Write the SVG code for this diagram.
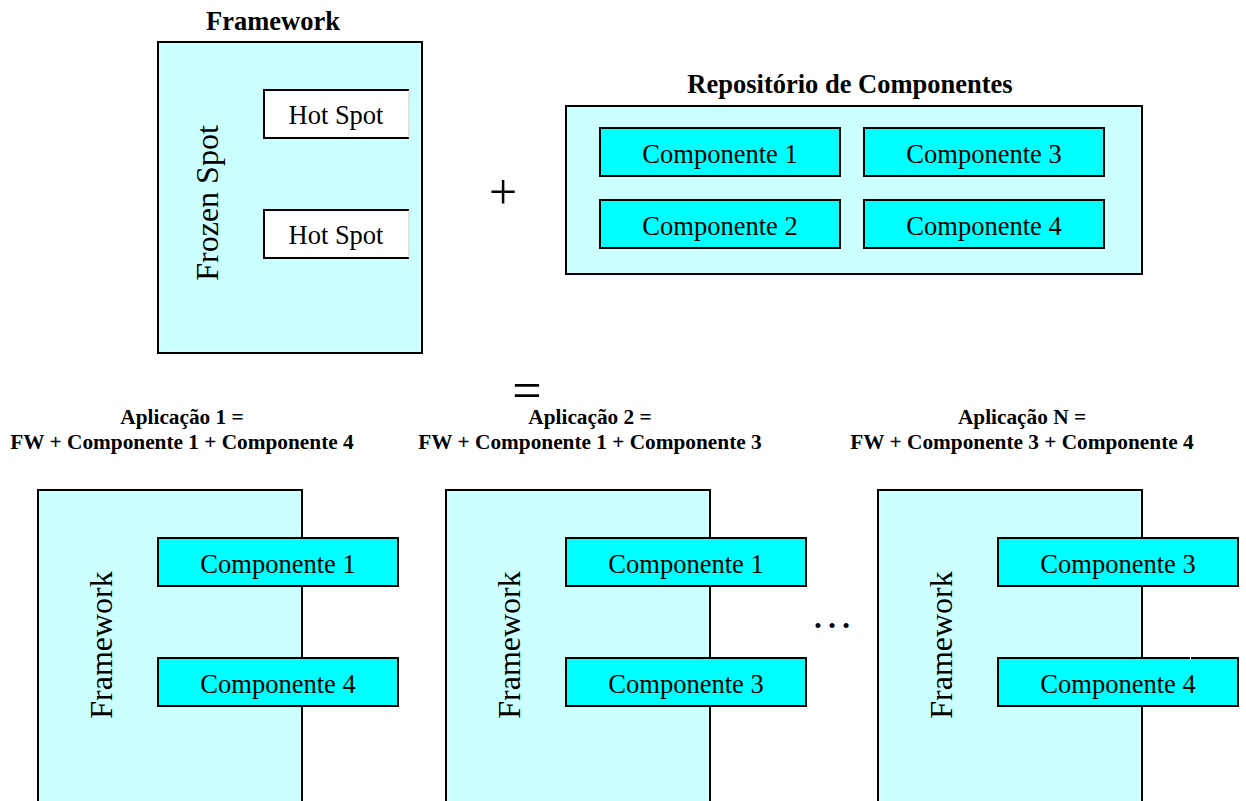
<svg xmlns="http://www.w3.org/2000/svg" width="1246" height="801" viewBox="0 0 1246 801">
  <style>
    .frame { fill: #CCFFFF; stroke: #000; stroke-width: 2; }
    .comp { fill: #00FFFF; stroke: #000; stroke-width: 2; }
    .hot { fill: #FFFFFF; }
    .edge { stroke: #000; stroke-width: 2; fill: none; }
    .t { font-family: "Liberation Serif", "Times New Roman", serif; fill: #000; }
    .lbl { font-size: 26.5px; text-anchor: middle; }
    .title { font-size: 26.5px; font-weight: bold; text-anchor: middle; }
    .app { font-size: 21.3px; font-weight: bold; text-anchor: middle; }
    .vert { font-size: 32px; text-anchor: middle; }
  </style>
  <rect width="1246" height="801" fill="#FFFFFF"/>

  <!-- Framework with frozen spot and hot spots -->
  <g id="framework">
    <text class="t title" x="273" y="30">Framework</text>
    <rect class="frame" x="158" y="42" width="264" height="311"/>
    <text class="t vert" font-size="33.5" transform="translate(218,203) rotate(-90)">Frozen Spot</text>
    <g id="hotspot1">
      <rect class="hot" x="264" y="90" width="145" height="48"/>
      <path class="edge" d="M409,90 H264 V138 H409"/>
      <line x1="409" y1="90" x2="409" y2="138" stroke="#C8C8C8" stroke-width="1"/>
      <text class="t lbl" x="336" y="124">Hot Spot</text>
    </g>
    <g id="hotspot2">
      <rect class="hot" x="264" y="210" width="145" height="48"/>
      <path class="edge" d="M409,210 H264 V258 H409"/>
      <line x1="409" y1="210" x2="409" y2="258" stroke="#C8C8C8" stroke-width="1"/>
      <text class="t lbl" x="336" y="244">Hot Spot</text>
    </g>
  </g>

  <!-- Operators -->
  <g id="plus"><text class="t" x="503" y="209" font-size="50" text-anchor="middle">+</text></g>
  <g id="equals"><text class="t" x="527" y="407.5" font-size="52" text-anchor="middle" font-family="Liberation Sans, Arial, sans-serif">=</text></g>

  <!-- Component repository -->
  <g id="repository">
    <text class="t title" x="850" y="93">Repositório de Componentes</text>
    <rect class="frame" x="566" y="106" width="576" height="168"/>
    <g id="repo-c1"><rect class="comp" x="600" y="128" width="240" height="48"/><text class="t lbl" x="720" y="163">Componente 1</text></g>
    <g id="repo-c3"><rect class="comp" x="864" y="128" width="240" height="48"/><text class="t lbl" x="984" y="163">Componente 3</text></g>
    <g id="repo-c2"><rect class="comp" x="600" y="200" width="240" height="48"/><text class="t lbl" x="720" y="235">Componente 2</text></g>
    <g id="repo-c4"><rect class="comp" x="864" y="200" width="240" height="48"/><text class="t lbl" x="984" y="235">Componente 4</text></g>
  </g>

  <!-- Application 1 -->
  <g id="app1">
    <text class="t app" x="182" y="424">Aplicação 1 =</text>
    <text class="t app" x="182" y="449">FW + Componente 1 + Componente 4</text>
    <rect class="frame" x="38" y="490" width="264" height="330"/>
    <text class="t vert" transform="translate(112,645) rotate(-90)">Framework</text>
    <g id="app1-c1"><rect class="comp" x="158" y="538" width="240" height="48"/><text class="t lbl" x="278" y="573">Componente 1</text></g>
    <g id="app1-c4"><rect class="comp" x="158" y="658" width="240" height="48"/><text class="t lbl" x="278" y="693">Componente 4</text></g>
  </g>

  <!-- Application 2 -->
  <g id="app2">
    <text class="t app" x="590" y="424">Aplicação 2 =</text>
    <text class="t app" x="590" y="449">FW + Componente 1 + Componente 3</text>
    <rect class="frame" x="446" y="490" width="264" height="330"/>
    <text class="t vert" transform="translate(520,645) rotate(-90)">Framework</text>
    <g id="app2-c1"><rect class="comp" x="566" y="538" width="240" height="48"/><text class="t lbl" x="686" y="573">Componente 1</text></g>
    <g id="app2-c3"><rect class="comp" x="566" y="658" width="240" height="48"/><text class="t lbl" x="686" y="693">Componente 3</text></g>
  </g>

  <g id="ellipsis"><text class="t" x="832" y="628" font-size="42" text-anchor="middle">…</text></g>

  <!-- Application N -->
  <g id="appN">
    <text class="t app" x="1022" y="424">Aplicação N =</text>
    <text class="t app" x="1022" y="449">FW + Componente 3 + Componente 4</text>
    <rect class="frame" x="878" y="490" width="264" height="330"/>
    <text class="t vert" transform="translate(952,645) rotate(-90)">Framework</text>
    <g id="appN-c3"><rect class="comp" x="998" y="538" width="240" height="48"/><text class="t lbl" x="1118" y="573">Componente 3</text></g>
    <g id="appN-c4"><rect class="comp" x="998" y="658" width="240" height="48"/><text class="t lbl" x="1118" y="693">Componente 4</text>
      <line x1="1190.5" y1="656.5" x2="1190.5" y2="659.5" stroke="#FFFFFF" stroke-width="1"/></g>
  </g>
</svg>
